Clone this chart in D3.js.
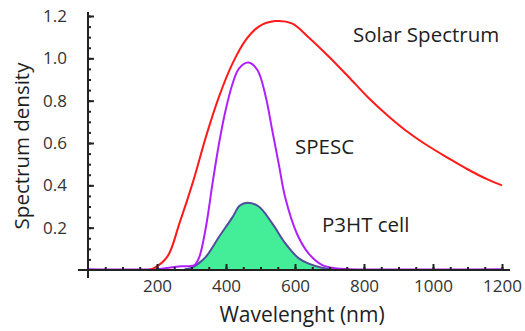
<!DOCTYPE html>
<html>
<head>
<meta charset="utf-8">
<script src="https://cdn.jsdelivr.net/npm/d3@7"></script>
<style>
  body { margin: 0; background: #fff; }
  text { font-family: "Open Sans", "Noto Sans", sans-serif; }
</style>
</head>
<body>
<div id="chart"></div>
<script>
'use strict';

// solar spectrum (red)
const solarWl  = [170, 190, 230, 265, 305, 342, 380, 419, 457, 495, 543, 591, 639, 697, 755, 812, 870, 927, 985, 1043, 1100, 1158, 1200];
const solarVal = [0, 0.008, 0.063, 0.22, 0.42, 0.63, 0.82, 0.976, 1.086, 1.15, 1.176, 1.165, 1.10, 1.01, 0.913, 0.815, 0.728, 0.652, 0.587, 0.53, 0.476, 0.428, 0.40];

// SPESC (purple)
const spescWl  = [0, 200, 240, 270, 295, 310, 323, 342, 361, 380, 399, 419, 438, 465, 491, 515, 534, 553, 572, 606, 639, 678, 716, 760, 1200];
const spescVal = [0.004, 0.004, 0.012, 0.018, 0.018, 0.025, 0.063, 0.205, 0.41, 0.60, 0.756, 0.88, 0.953, 0.98, 0.945, 0.82, 0.66, 0.50, 0.34, 0.17, 0.079, 0.024, 0.008, 0.004, 0.004];

// P3HT cell (green area)
const p3htWl  = [280, 300, 320, 342, 380, 419, 440, 462, 495, 534, 572, 611, 640, 678, 716, 740];
const p3htVal = [0.004, 0.01, 0.03, 0.063, 0.157, 0.25, 0.305, 0.318, 0.30, 0.22, 0.126, 0.055, 0.03, 0.011, 0.003, 0.002];

const xMajor = [200, 400, 600, 800, 1000, 1200];
const yMajor = [0.2, 0.4, 0.6, 0.8, 1.0, 1.2];

const labels = [
    {text: "Solar Spectrum", x: 353, y: 42},
    {text: "SPESC", x: 295, y: 154},
    {text: "P3HT cell", x: 322, y: 232}
];

const width = 525, height = 331;

const svg = d3.select("#chart")
    .append("svg")
    .attr("width", width)
    .attr("height", height);

const x = d3.scaleLinear().domain([0, 1200]).range([88, 502]);
const y = d3.scaleLinear().domain([0, 1.2]).range([270, 16]);

const zip = (a, b) => a.map((d, i) => ({wl: d, v: b[i]}));
const curve = d3.curveCatmullRom.alpha(0.5);

// green area for P3HT
const p3ht = zip(p3htWl, p3htVal);
svg.append("path")
    .datum(p3ht)
    .attr("fill", "#44ee99")
    .attr("d", d3.area().x(d => x(d.wl)).y0(y(0)).y1(d => y(d.v)).curve(curve));
svg.append("path")
    .datum(p3ht)
    .attr("fill", "none")
    .attr("stroke", "#4f4f9c")
    .attr("stroke-width", 2)
    .attr("d", d3.line().x(d => x(d.wl)).y(d => y(d.v)).curve(curve));

// SPESC
svg.append("path")
    .datum(zip(spescWl, spescVal))
    .attr("fill", "none")
    .attr("stroke", "#b020ff")
    .attr("stroke-width", 2)
    .attr("d", d3.line().x(d => x(d.wl)).y(d => y(d.v)).curve(curve));

// solar spectrum
svg.append("path")
    .datum(zip(solarWl, solarVal))
    .attr("fill", "none")
    .attr("stroke", "#ff1a1a")
    .attr("stroke-width", 2)
    .attr("d", d3.line().x(d => x(d.wl)).y(d => y(d.v)).curve(curve));

// axes: minor ticks first, then major with labels
const axisColor = "#222";

const xMinor = svg.append("g")
    .attr("transform", "translate(0," + y(0) + ")")
    .call(d3.axisBottom(x).tickValues(d3.range(50, 1201, 50)).tickSize(-3).tickFormat(""));
const xAxis = svg.append("g")
    .attr("transform", "translate(0," + y(0) + ")")
    .call(d3.axisBottom(x).tickValues(xMajor).tickSize(-6).tickPadding(10).tickFormat(d3.format("d")));

const yMinor = svg.append("g")
    .attr("transform", "translate(" + x(0) + ",0)")
    .call(d3.axisLeft(y).tickValues(d3.range(1, 25).map(i => i * 0.05)).tickSize(-3).tickFormat(""));
const yAxis = svg.append("g")
    .attr("transform", "translate(" + x(0) + ",0)")
    .call(d3.axisLeft(y).tickValues(yMajor).tickSize(-6).tickPadding(21).tickFormat(d3.format(".1f")));

[xMinor, xAxis, yMinor, yAxis].forEach(g => {
    g.select(".domain").remove();
    g.selectAll("line").attr("stroke", axisColor).attr("stroke-width", 2);
    g.selectAll("text").attr("fill", "#333").style("font-size", "17px");
});

// axis lines, crossing at the origin
svg.append("line")
    .attr("x1", x(0) - 10).attr("x2", x(1200) + 8)
    .attr("y1", y(0)).attr("y2", y(0))
    .attr("stroke", axisColor).attr("stroke-width", 2);
svg.append("line")
    .attr("x1", x(0)).attr("x2", x(0))
    .attr("y1", y(1.2) - 4).attr("y2", y(0) + 8)
    .attr("stroke", axisColor).attr("stroke-width", 2);

// axis titles
svg.append("text")
    .attr("transform", "translate(29," + ((y(0) + y(1.2)) / 2 + 3) + ") rotate(-90)")
    .attr("text-anchor", "middle")
    .attr("fill", "#1e1e1e")
    .style("font-size", "20.5px")
    .text("Spectrum density");
svg.append("text")
    .attr("x", 302)
    .attr("y", 322)
    .attr("text-anchor", "middle")
    .attr("fill", "#1e1e1e")
    .style("font-size", "21px")
    .text("Wavelenght (nm)");

// series labels
svg.selectAll(".seriesLabel")
    .data(labels)
    .enter()
    .append("text")
    .classed("seriesLabel", true)
    .attr("x", d => d.x)
    .attr("y", d => d.y)
    .attr("fill", "#1e1e1e")
    .style("font-size", "20.5px")
    .text(d => d.text);
</script>
</body>
</html>
